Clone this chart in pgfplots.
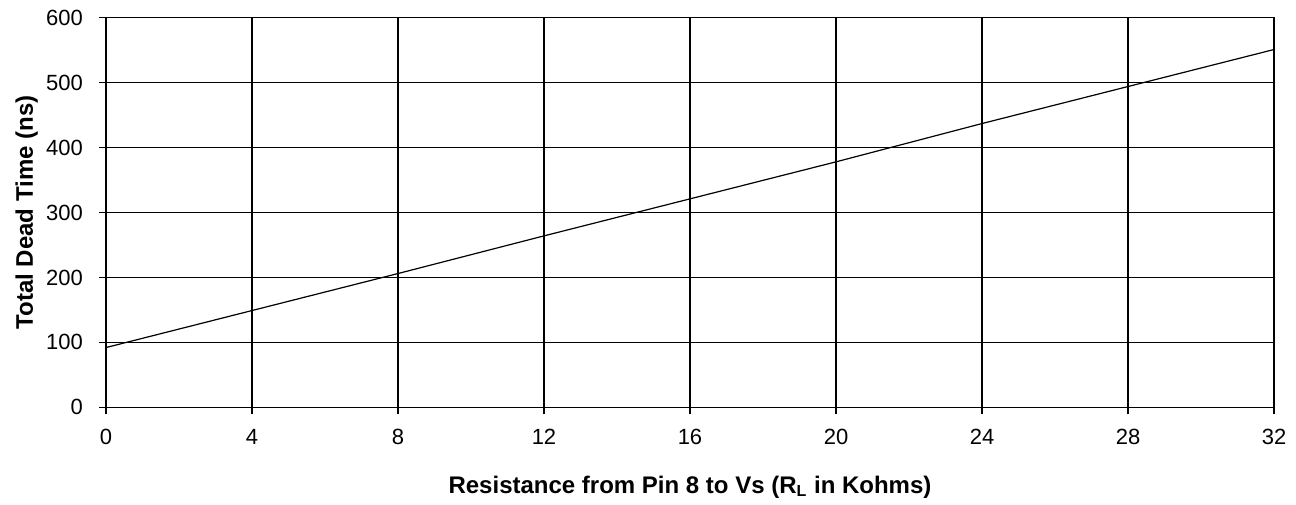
\documentclass[border=0pt]{standalone}
\usepackage{fontspec}
\setmainfont{Liberation Sans}
\usepackage{pgfplots}
\pgfplotsset{compat=1.18}
\begin{document}
\begin{tikzpicture}
\begin{axis}[
    scale only axis,
    width=584pt, height=194.8pt,
    xmin=0, xmax=32, ymin=0, ymax=600,
    xtick={0,4,...,32},
    ytick={0,100,...,600},
    grid=major,
    grid style={draw=black, line width=0.7pt},
    axis line style={line width=0.7pt},
    tick style={draw=black, line width=0.7pt},
    tick align=outside,
    major tick length=3.5pt,
    xtick pos=bottom, ytick pos=left,
    /pgf/number format/assume math mode=true,
    tick label style={font=\fontsize{11}{13}\selectfont},
    xticklabel style={yshift=-4pt},
    yticklabel style={xshift=-4.5pt},
    xlabel={Resistance from Pin 8 to Vs (R\textsubscript{L} in Kohms)},
    ylabel={Total Dead Time (ns)},
    xlabel style={font=\bfseries\fontsize{12}{14}\selectfont,
        at={(axis description cs:0.5,0)}, anchor=base, yshift=-43pt},
    ylabel style={font=\bfseries\fontsize{12}{14}\selectfont,
        at={(axis description cs:0,0.5)}, anchor=base, yshift=36.5pt},
]
\addplot[black, line width=0.6pt] coordinates {
    (0,92) (4,149) (8,206) (12,264) (16,321) (20,378) (24,437) (28,494) (32,551)
};
\end{axis}
\path ([xshift=-53pt,yshift=-46.85pt]current axis.south west)
    rectangle ([xshift=11pt,yshift=8.85pt]current axis.north east);
\end{tikzpicture}
\end{document}
